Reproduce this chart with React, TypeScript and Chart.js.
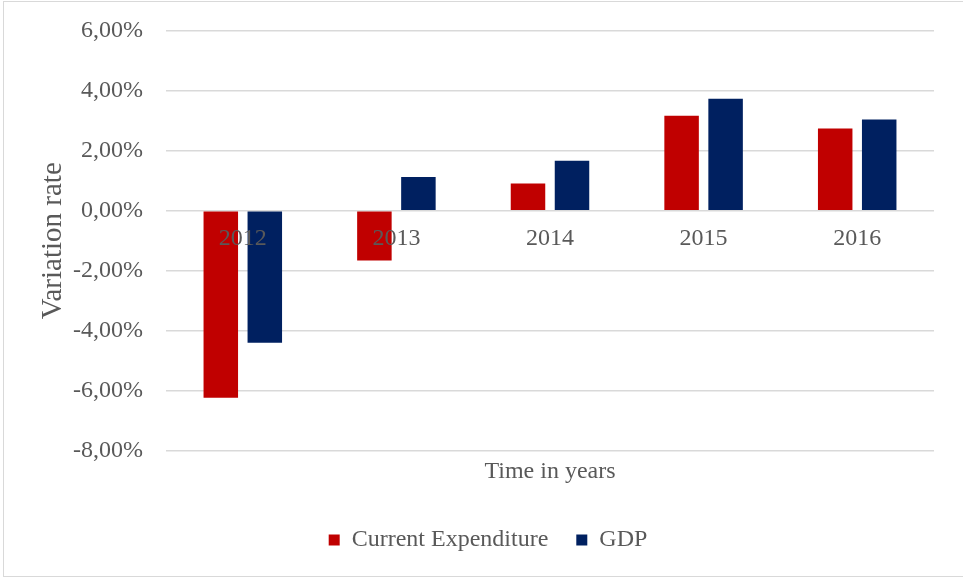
import { useEffect, useRef } from "react";
import { Chart, registerables } from "chart.js";

Chart.register(...registerables);

const categories = ["2012", "2013", "2014", "2015", "2016"];
const currentExpenditure = [-6.23, -1.66, 0.91, 3.16, 2.74];
const gdp = [-4.4, 1.12, 1.66, 3.73, 3.04];
const yMin = -8;
const yMax = 6;
const yStep = 2;

const seriesNames = ["Current Expenditure", "GDP"];
const FONT = '"Liberation Serif", "Times New Roman", serif';
const TEXT = "#595959";

export default function App() {
  const ref = useRef<HTMLCanvasElement | null>(null);

  useEffect(() => {
    if (!ref.current) return;
    const chart = new Chart(ref.current, {
      type: "bar",
      data: {
        labels: categories,
        datasets: [
          {
            label: seriesNames[0],
            data: currentExpenditure,
            backgroundColor: "#C00000",
            borderWidth: 0,
            categoryPercentage: 0.573,
            barPercentage: 0.784,
          },
          {
            label: seriesNames[1],
            data: gdp,
            backgroundColor: "#002060",
            borderWidth: 0,
            categoryPercentage: 0.573,
            barPercentage: 0.784,
          },
        ],
      },
      options: {
        animation: false,
        responsive: true,
        maintainAspectRatio: false,
        layout: { padding: { left: 42, right: 29, top: 30.5, bottom: 16 } },
        plugins: {
          tooltip: { enabled: false },
          legend: {
            position: "bottom",
            labels: {
              boxWidth: 11,
              boxHeight: 11,
              padding: 28,
              color: TEXT,
              font: { family: FONT, size: 24 },
            },
          },
        },
        scales: {
          x: {
            position: { y: 0 } as any,
            grid: { display: false, drawTicks: false },
            border: { display: false },
            ticks: {
              z: 1,
              padding: 14,
              color: TEXT,
              font: { family: FONT, size: 24 },
            },
          },
          x2: {
            type: "category",
            labels: categories,
            position: "bottom",
            grid: { display: false, drawTicks: false },
            border: { display: false },
            ticks: { display: false },
            title: {
              display: true,
              text: "Time in years",
              color: TEXT,
              font: { family: FONT, size: 24 },
              padding: { top: 6.6, bottom: 13.6 },
            },
            afterFit: (s: any) => {
              s.height = 49;
              s.paddingLeft = 0;
              s.paddingRight = 0;
            },
          },
          y: {
            min: yMin,
            max: yMax,
            grid: { color: "#d9d9d9", lineWidth: 1.5, drawTicks: false },
            border: { display: false },
            ticks: {
              stepSize: yStep,
              padding: 23,
              color: TEXT,
              font: { family: FONT, size: 24 },
              callback: (v: any) => Number(v).toFixed(2).replace(".", ",") + "%",
            },
            title: {
              display: true,
              text: "Variation rate",
              color: TEXT,
              font: { family: FONT, size: 29 },
              padding: { top: -6, bottom: 0 },
            },
            afterFit: (s: any) => {
              s.width = 124;
              s.paddingTop = 0;
              s.paddingBottom = 0;
            },
          },
        },
      },
    });
    return () => chart.destroy();
  }, []);

  return (
    <div
      style={{
        position: "absolute",
        left: 0,
        top: 0,
        width: 963,
        height: 578,
        overflow: "hidden",
        background: "#fff",
      }}
    >
      <div
        style={{
          position: "absolute",
          left: 3,
          top: 1,
          width: 1000,
          height: 574,
          border: "1.5px solid #d9d9d9",
        }}
      />
      <div style={{ position: "absolute", left: 0, top: 0, width: 963, height: 578 }}>
        <canvas ref={ref} />
      </div>
    </div>
  );
}
